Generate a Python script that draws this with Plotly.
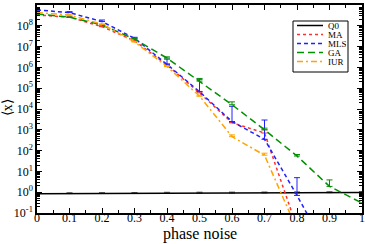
import plotly.graph_objects as go

x = [0.0, 0.1, 0.2, 0.3, 0.4, 0.5, 0.6, 0.7, 0.8, 0.9, 1.0]

q0 = [0.85, 0.86, 0.87, 0.88, 0.89, 0.9, 0.91, 0.92, 0.93, 0.95, 0.97]
q0_err = [0.0, 0.08, 0.08, 0.08, 0.1, 0.1, 0.1, 0.1, 0.1, 0.1, 0.1]

ma = [3.3e8, 2.6e8, 9.1e7, 1.9e7, 1.3e6, 6.0e4, 2.2e3, 7.0e2, 0.02, 1e-3, 1e-4]
ma_err = [0, 0, 0, 0, 2e5, 1e4, 0, 3e2, 0, 0, 0]

mls = [5.8e8, 4.3e8, 1.6e8, 2.5e7, 1.4e6, 6.8e4, 2.5e3, 3.5e2, 0.7, 1e-3, 1e-4]
mls_err = [0, 5e7, 3e7, 3e6, 1.1e6, 2.0e5, 1.1e4, 2.6e3, 4.3, 0, 0]

ga = [3.7e8, 2.6e8, 1.1e8, 2.3e7, 2.8e6, 2.2e5, 1.6e4, 1.0e3, 55, 1.9, 0.3]
ga_err = [0, 0, 0, 3e6, 4e5, 7.5e4, 6e3, 2e2, 10, 2, 0]

iur = [4.3e8, 3.3e8, 1.2e8, 1.7e7, 1.1e6, 4.2e4, 4.7e2, 60, 0.016, 1e-3, 1e-4]
iur_err = [0, 0, 0, 0, 0, 0, 1e2, 15, 0, 0, 0]

y_tickvals = [1e-1, 1e0, 1e1, 1e2, 1e3, 1e4, 1e5, 1e6, 1e7, 1e8, 1e9]
y_ticktext = ["10<sup>-1</sup>", "10<sup>0</sup>", "10<sup>1</sup>", "10<sup>2</sup>",
              "10<sup>3</sup>", "10<sup>4</sup>", "10<sup>5</sup>", "10<sup>6</sup>",
              "10<sup>7</sup>", "10<sup>8</sup>", "10<sup>9</sup>"]
x_tickvals = [0, 0.1, 0.2, 0.3, 0.4, 0.5, 0.6, 0.7, 0.8, 0.9, 1.0]
x_ticktext = ["0", "0.1", "0.2", "0.3", "0.4", "0.5", "0.6", "0.7", "0.8", "0.9", "1"]

series = [
    ("Q0", q0, q0_err, "black", "solid", "#555555"),
    ("MA", ma, ma_err, "#ff3030", "dot", "#ff3030"),
    ("MLS", mls, mls_err, "#2020ff", "4px,3px", "#2020ff"),
    ("GA", ga, ga_err, "#009000", "7px,4px", "#009000"),
    ("IUR", iur, iur_err, "#ffa500", "6px,3px,2px,3px", "#ffa500"),
]

SERIF = "Liberation Serif"

fig = go.Figure()
for name, ys, err, col, dash, ecol in series:
    fig.add_trace(go.Scatter(
        x=x, y=ys, name=name, mode="lines", showlegend=False,
        line=dict(color=col, dash=dash, width=1.5),
        error_y=dict(type="data", symmetric=False, array=err,
                     arrayminus=[0] * len(err), color=ecol,
                     thickness=1, width=3),
    ))

axis_common = dict(
    showline=True, linecolor="black", linewidth=1.5, mirror="allticks",
    ticks="inside", tickcolor="black", showgrid=False, zeroline=False,
    tickfont=dict(family=SERIF, size=12, color="black"),
    automargin=False,
)

fig.update_xaxes(
    range=[0, 1], tickvals=x_tickvals, ticktext=x_ticktext, ticklen=5,
    minor=dict(ticks="inside", dtick=0.05, ticklen=3, tickcolor="black"),
    ticklabelstandoff=-7,
    **axis_common,
)
fig.update_yaxes(
    type="log", range=[-1, 9], tickvals=y_tickvals, ticktext=y_ticktext, ticklen=5,
    minor=dict(ticks="inside", dtick="D1", ticklen=3, tickcolor="black"),
    **axis_common,
)

# axis titles
fig.add_annotation(xref="paper", yref="paper", x=0.50, y=-0.102, text="phase noise",
                   showarrow=False, xanchor="center", yanchor="middle",
                   font=dict(family=SERIF, size=16, color="black"))
fig.add_annotation(xref="paper", yref="paper", x=-0.088, y=0.505, text="⟨x⟩",
                   showarrow=False, xanchor="center", yanchor="middle", textangle=-90,
                   font=dict(family=SERIF, size=14, color="black"))

# custom compact legend (box, line samples, labels) in paper coordinates
W, H = 325.0, 208.0
def px_x(p):
    return (p - 37) / W
def px_y(p):
    return (213 - p) / H

fig.add_shape(type="rect", xref="paper", yref="paper",
              x0=px_x(293), x1=px_x(348), y0=px_y(72), y1=px_y(21),
              line=dict(color="black", width=1), fillcolor="white", layer="above")
entry_y = [25.5, 34.5, 43.5, 52.5, 61.5]
for (name, ys, err, col, dash, ecol), ey in zip(series, entry_y):
    fig.add_shape(type="line", xref="paper", yref="paper",
                  x0=px_x(297), x1=px_x(323), y0=px_y(ey), y1=px_y(ey),
                  line=dict(color=col, dash=dash, width=1.5), layer="above")
    fig.add_annotation(xref="paper", yref="paper", x=px_x(327), y=px_y(ey), text=name,
                       showarrow=False, xanchor="left", yanchor="middle",
                       height=9, borderpad=0,
                       font=dict(family=SERIF, size=9, color="black"))

fig.update_layout(
    width=365, height=244,
    margin=dict(l=37, r=3, t=5, b=31, autoexpand=False),
    paper_bgcolor="white", plot_bgcolor="white",
    showlegend=False,
)

fig.write_html("out.html", config={"displayModeBar": False},
               post_script="document.body.style.margin='0';document.body.style.padding='0';"
                           "document.body.style.overflow='hidden';")
